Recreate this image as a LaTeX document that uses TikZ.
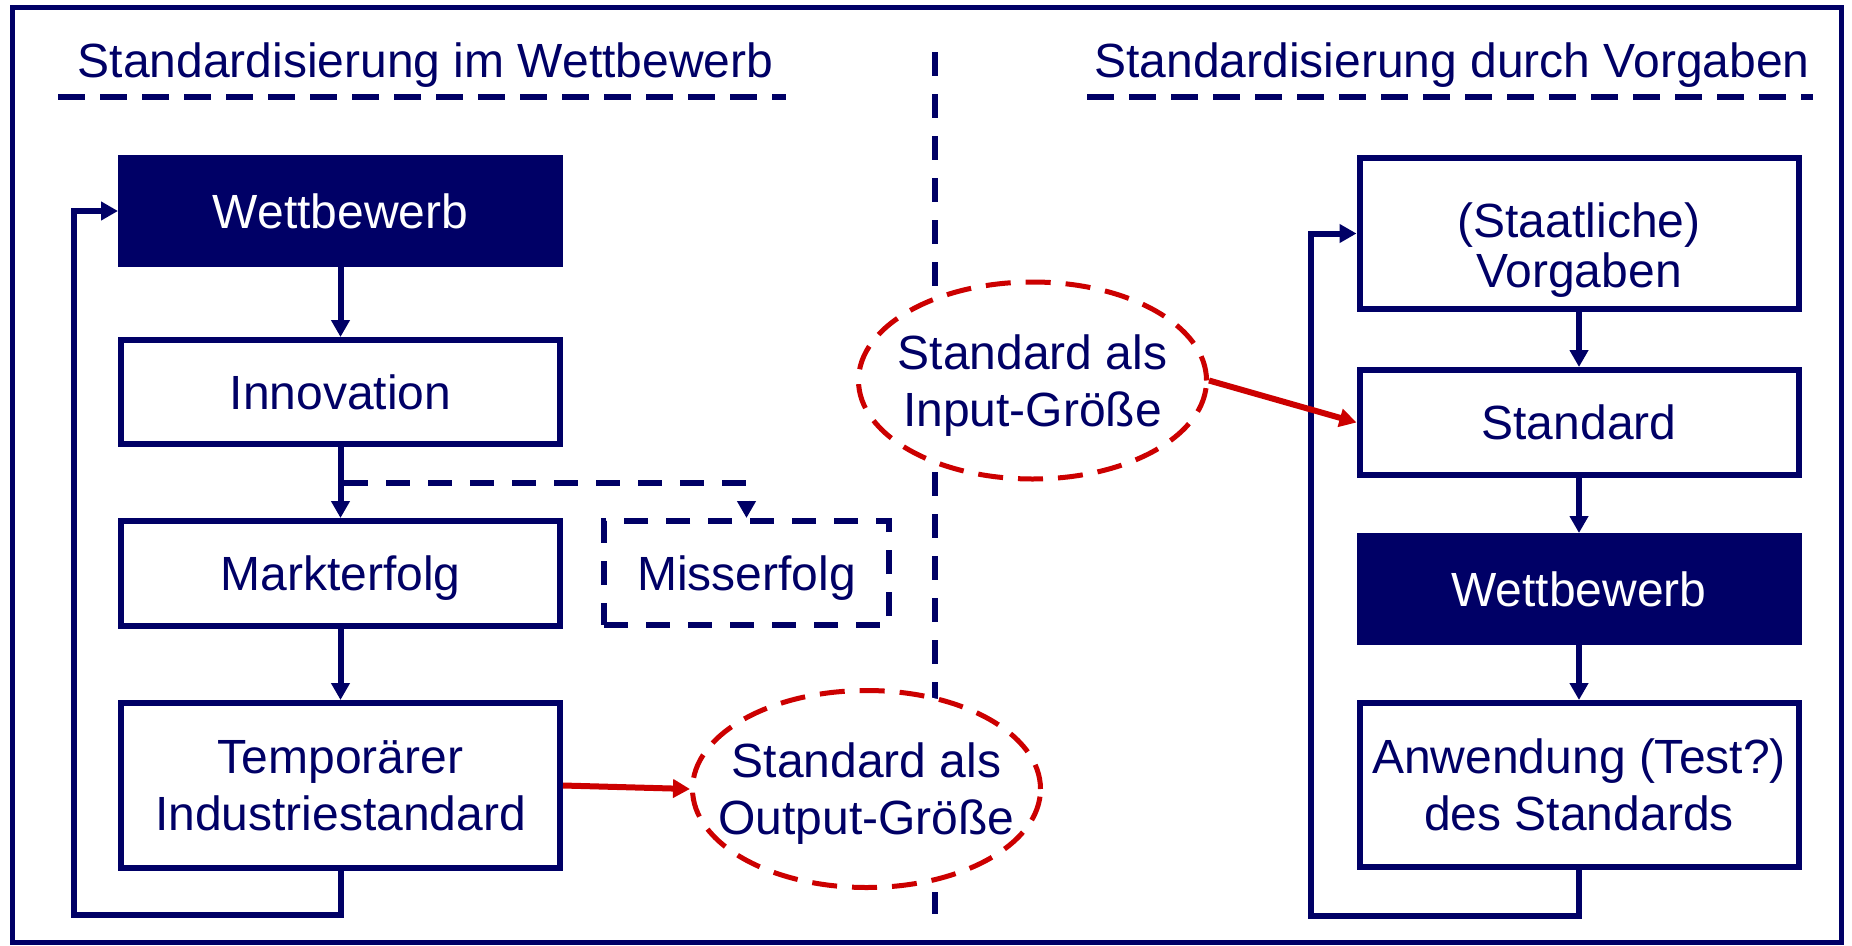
\documentclass[tikz,border=0pt]{standalone}
\usepackage{fontspec}
\setmainfont{Liberation Sans}
\usetikzlibrary{shapes.geometric,arrows.meta}
\definecolor{navy}{RGB}{0,0,102}
\definecolor{dred}{RGB}{204,0,0}
\begin{document}
\begin{tikzpicture}[x=1pt,y=-1pt,
  every node/.style={font=\fontsize{48}{57}\selectfont, text=navy, align=center, inner sep=0pt},
  box/.style={draw=navy, line width=6pt, rectangle, minimum width=439pt},
  darkbox/.style={box, fill=navy, text=white},
  dbox/.style={box, dash pattern=on 24pt off 18pt},
  oval/.style={ellipse, draw=dred, fill=white, line width=5pt, dash pattern=on 25pt off 15pt,
    inner sep=-40pt, minimum width=348pt, minimum height=197pt},
  conn/.style={draw=navy, line width=6pt, -{Triangle[length=17pt,width=18pt]}},
  dconn/.style={conn, dash pattern=on 24pt off 18pt},
  rconn/.style={draw=dred, line width=6pt, -{Triangle[length=17pt,width=18pt]}},
  titleline/.style={draw=navy, line width=6pt, dash pattern=on 27pt off 15pt},
  divline/.style={draw=navy, line width=6pt, dash pattern=on 24pt off 18pt},
]
\useasboundingbox (0,0) rectangle (1852,945);
\fill[white] (0,0) rectangle (1852,945);
\draw[navy, line width=5pt] (12,7) rectangle (1841,942);

% titles
\node[anchor=base] (t1) at (425.5,77) {Standardisierung im Wettbewerb};
\node[anchor=base] (t2) at (1452,77) {Standardisierung durch Vorgaben};
\coordinate (t1a) at (58,97);  \coordinate (t1b) at (786,97);
\coordinate (t2a) at (1087,97); \coordinate (t2b) at (1813,97);
\draw[titleline] (t1a) -- (t1b);
\draw[titleline] (t2a) -- (t2b);

% divider
\coordinate (da) at (935,52); \coordinate (db) at (935,914);
\draw[divline] (da) -- (db);

% left column
\node[darkbox, minimum height=106pt] (wb1) at (340.5,211) {Wettbewerb};
\node[box, minimum height=104pt] (inn) at (340.5,392) {Innovation};
\node[box, minimum height=105pt, text depth=0pt] (mark) at (340.5,573.5) {Markterfolg};
\node[box, minimum height=165pt] (temp) at (340.5,785.5) {Temporärer\\Industriestandard};
\node[dbox, minimum width=285pt, minimum height=104pt, text depth=0pt] (miss) at (746.5,573) {Misserfolg};

% right column
\node[box, minimum height=151pt, font=\fontsize{48}{50}\selectfont] (vorg) at (1579,233.5) {\rule{0pt}{67pt}(Staatliche)\\Vorgaben};
\node[box, minimum height=105pt] (std) at (1579,422.5) {Standard};
\node[darkbox, minimum height=106pt] (wb2) at (1579,589) {Wettbewerb};
\node[box, minimum height=164pt] (anw) at (1579,785) {Anwendung (Test?)\\des Standards};

% ovals
\node[oval] (ing) at (1032.5,380.5) {\rule{0pt}{44pt}Standard als\\Input-Größe};
\node[oval] (outg) at (866.5,789) {\rule{0pt}{44pt}Standard als\\Output-Größe};

% connectors left
\draw[conn] (wb1) -- (inn);
\draw[conn] (inn) -- (mark);
\draw[conn] (mark) -- (temp);
\coordinate (br) at (344,483);
\draw[dconn] (br) -| (miss.north);
\coordinate (lb) at (74,915);
\draw[conn] (temp.south) |- (lb) |- (wb1.west);

% connectors right
\draw[conn] (vorg) -- (std);
\draw[conn] (std) -- (wb2);
\draw[conn] (wb2) -- (anw);
\coordinate (rb) at (1311,916);
\draw[conn] (anw.south) |- (rb) |- (vorg.west);

% red connectors
\draw[rconn] (temp.east) -- (outg.west);
\draw[rconn] (ing.east) -- (std.west);
\end{tikzpicture}
\end{document}
